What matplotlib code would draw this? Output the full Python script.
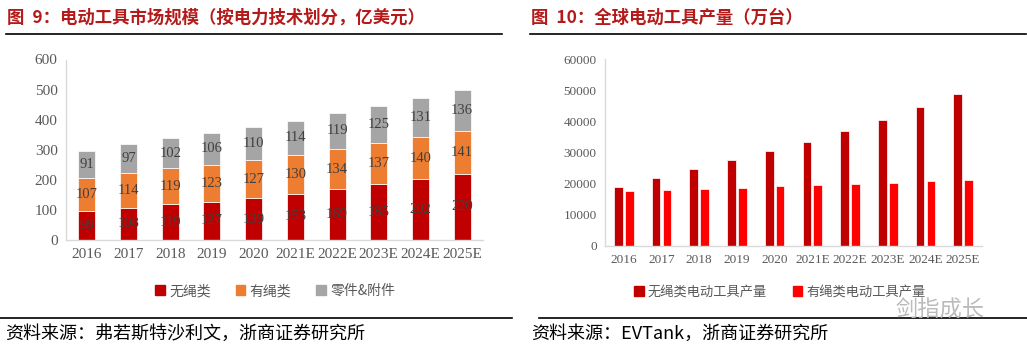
import matplotlib.pyplot as plt
import numpy as np
from matplotlib.lines import Line2D
from matplotlib.patches import Patch

plt.rcParams["font.family"] = ["Noto Sans CJK SC", "DejaVu Sans"]

years = ["2016", "2017", "2018", "2019", "2020",
         "2021E", "2022E", "2023E", "2024E", "2025E"]

# figure 9: market size, 100M USD
cordless = [98, 108, 119, 127, 139, 153, 169, 185, 202, 220]
corded = [107, 114, 119, 123, 127, 130, 134, 137, 140, 141]
parts = [91, 97, 102, 106, 110, 114, 119, 125, 131, 136]
names_left = ["无绳类", "有绳类", "零件&附件"]

# figure 10: output, 10k units
cordless_units = [19000, 21800, 24800, 27700, 30400,
                  33500, 36800, 40500, 44500, 48900]
corded_units = [17500, 17900, 18300, 18700, 19100,
                19500, 19900, 20300, 20700, 21100]
names_right = ["无绳类电动工具产量", "有绳类电动工具产量"]

DARK = "#C00000"
ORANGE = "#ED7D31"
GREY = "#A5A5A5"
RED = "#FF0000"
TITLE = "#B41A1A"
TICK = "#595959"
SERIF = "Liberation Serif"

W, H = 1027, 355
fig = plt.figure(figsize=(W / 100, H / 100), dpi=100)


def px(x0, y0, x1, y1):
    # pixel box -> figure fraction rect
    return [x0 / W, 1 - y1 / H, (x1 - x0) / W, (y1 - y0) / H]


def style(ax, fs):
    for s in ["top", "right"]:
        ax.spines[s].set_visible(False)
    for s in ["left", "bottom"]:
        ax.spines[s].set_color("#D9D9D9")
        ax.spines[s].set_linewidth(1.0)
    ax.tick_params(length=0, colors=TICK, labelsize=fs, pad=6)
    for lab in ax.get_xticklabels() + ax.get_yticklabels():
        lab.set_fontfamily(SERIF)


# ---- left chart
ax1 = fig.add_axes(px(66, 59.5, 483, 240))
x = np.arange(len(years))
w = 0.41
bottom = np.zeros(len(years))
for vals, col, nm in zip([cordless, corded, parts], [DARK, ORANGE, GREY], names_left):
    v = np.array(vals)
    ax1.bar(x, v, w, bottom=bottom, color=col, edgecolor="white", linewidth=0.5, label=nm)
    for xi, b, vi in zip(x, bottom, v):
        ax1.text(xi, b + vi / 2, str(vi), ha="center", va="center",
                 fontsize=10.5, color="#404040", family=SERIF)
    bottom += v
ax1.set_xlim(-0.5, len(years) - 0.5)
ax1.set_ylim(0, 600)
ax1.set_yticks(range(0, 601, 100))
ax1.set_xticks(x)
ax1.set_xticklabels(years)
style(ax1, 11)

# ---- right chart
ax2 = fig.add_axes(px(605, 59, 982, 246))
w2 = 0.23
ax2.bar(x - w2 / 2 - 0.03, cordless_units, w2, color=DARK, edgecolor="white", linewidth=0.5)
ax2.bar(x + w2 / 2 + 0.03, corded_units, w2, color=RED, edgecolor="white", linewidth=0.5)
ax2.set_xlim(-0.5, len(years) - 0.5)
ax2.set_ylim(0, 60000)
ax2.set_yticks(range(0, 60001, 10000))
ax2.set_xticks(x)
ax2.set_xticklabels(years)
style(ax2, 9.5)

# ---- legends
h1 = [Patch(color=c) for c in [DARK, ORANGE, GREY]]
fig.legend(h1, names_left, loc="center", bbox_to_anchor=(275 / W, 1 - 291 / H),
           ncol=3, frameon=False, handlelength=0.7, handleheight=0.7,
           handletextpad=0.3, columnspacing=1.8,
           prop={"family": ["Noto Sans CJK SC"], "size": 10}, labelcolor="#595959")
h2 = [Patch(color=c) for c in [DARK, RED]]
fig.legend(h2, names_right, loc="center", bbox_to_anchor=(780 / W, 1 - 292 / H),
           ncol=2, frameon=False, handlelength=0.7, handleheight=0.7,
           handletextpad=0.3, columnspacing=2.0,
           prop={"family": ["Noto Sans CJK SC"], "size": 9.5}, labelcolor="#595959")

# ---- titles, rules, footers
fig.text(7 / W, 1 - 18 / H, "图  9：电动工具市场规模（按电力技术划分，亿美元）",
         fontsize=12.5, fontweight="bold", color=TITLE, va="center")
fig.text(531 / W, 1 - 18 / H, "图  10：全球电动工具产量（万台）",
         fontsize=12.5, fontweight="bold", color=TITLE, va="center")
for xa, xb in [(6, 502), (530, 1026)]:
    fig.add_artist(Line2D([xa / W, xb / W], [1 - 34 / H] * 2, color="black", lw=1.2))
for xa, xb in [(0, 512), (539, 1027)]:
    fig.add_artist(Line2D([xa / W, xb / W], [1 - 318 / H] * 2, color="black", lw=1.2))
fig.text(5 / W, 1 - 334 / H, "资料来源：弗若斯特沙利文，浙商证券研究所",
         fontsize=13, color="black", va="center")
fig.text(531 / W, 1 - 334 / H, "资料来源：EVTank，浙商证券研究所",
         fontsize=13, color="black", va="center")
fig.text(895 / W, 1 - 310 / H, "剑指成长", fontsize=16, color="#BBBBBB", va="center")

fig.savefig("out.png", dpi=100)
